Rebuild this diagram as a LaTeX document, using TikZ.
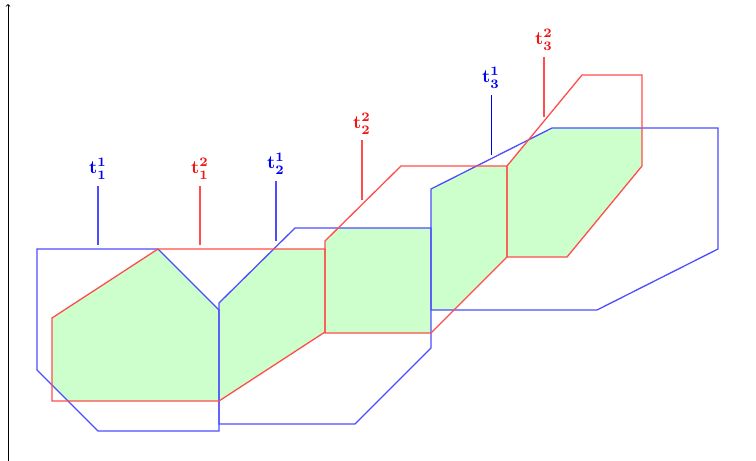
\documentclass[tikz,border=0pt]{standalone}
\usepackage{graphicx}
\definecolor{pblue}{RGB}{77,77,255}
\definecolor{pred}{RGB}{255,77,77}
\definecolor{pgreen}{RGB}{204,255,204}
\definecolor{lblue}{RGB}{0,0,240}
\definecolor{lred}{RGB}{240,20,20}
\tikzset{
  bpoly/.style={draw=pblue,line width=1.3pt,line join=miter},
  rpoly/.style={draw=pred,line width=1.3pt,line join=miter},
  btick/.style={draw=pblue,line width=1.1pt},
  rtick/.style={draw=pred,line width=1.1pt},
  dtick/.style={draw=lblue,line width=0.9pt},
  lab/.style={inner sep=0pt,font=\boldmath},
}
\newcommand{\mylab}[2]{\scalebox{1.85}{$\mathbf{t}_{#1}^{#2}$}}
\begin{document}
\begin{tikzpicture}[x=1pt,y=-1pt]
\useasboundingbox (0,0) rectangle (756,461);
\def\BlueA{(37,249) -- (158,249) -- (219,310) -- (219,431) -- (98,431) -- (37,370) -- cycle}
\def\BlueB{(219,303) -- (295,228) -- (431,228) -- (431,348) -- (355,424) -- (219,424) -- cycle}
\def\BlueC{(431,189) -- (552,128) -- (718,128) -- (718,249) -- (597,310) -- (431,310) -- cycle}
\def\RedA{(52,318) -- (158,249) -- (325,249) -- (325,332) -- (219,401) -- (52,401) -- cycle}
\def\RedB{(325,241) -- (401,166) -- (507,166) -- (507,257) -- (431,333) -- (325,333) -- cycle}
\def\RedC{(507,166) -- (582,75) -- (642,75) -- (642,166) -- (567,257) -- (507,257) -- cycle}
% green intersections
\begin{scope}
  \clip \RedA;
  \fill[pgreen] \BlueA; \fill[pgreen] \BlueB;
\end{scope}
\begin{scope}
  \clip \RedB;
  \fill[pgreen] \BlueB; \fill[pgreen] \BlueC;
\end{scope}
\begin{scope}
  \clip \RedC;
  \fill[pgreen] \BlueC;
\end{scope}
% outlines
\draw[bpoly] \BlueA;
\draw[bpoly] \BlueB;
\draw[bpoly] \BlueC;
\draw[rpoly] \RedA;
\draw[rpoly] \RedB;
\draw[rpoly] \RedC;
% axis
\coordinate (ax0) at (8,461);
\coordinate (ax1) at (8,4);
\draw[line width=0.8pt,-to] (ax0) -- (ax1);
% labels and ticks
\node[lab,text=lblue] (t11) at (98,169) {\mylab{1}{1}};
\coordinate (t11a) at (98,186); \coordinate (t11b) at (98,245);
\draw[btick] (t11a) -- (t11b);
\node[lab,text=lred] (t12) at (200,169) {\mylab{1}{2}};
\coordinate (t12a) at (200,186); \coordinate (t12b) at (200,245);
\draw[rtick] (t12a) -- (t12b);
\node[lab,text=lblue] (t21) at (276,164) {\mylab{2}{1}};
\coordinate (t21a) at (276,181); \coordinate (t21b) at (276,241);
\draw[btick] (t21a) -- (t21b);
\node[lab,text=lred] (t22) at (362,124) {\mylab{2}{2}};
\coordinate (t22a) at (362,140); \coordinate (t22b) at (362,200);
\draw[rtick] (t22a) -- (t22b);
\node[lab,text=lblue] (t31) at (491,78) {\mylab{3}{1}};
\coordinate (t31a) at (491,95); \coordinate (t31b) at (491,155);
\draw[dtick] (t31a) -- (t31b);
\node[lab,text=lred] (t32) at (544,40) {\mylab{3}{2}};
\coordinate (t32a) at (544,57); \coordinate (t32b) at (544,117);
\draw[rtick] (t32a) -- (t32b);
\end{tikzpicture}
\end{document}
